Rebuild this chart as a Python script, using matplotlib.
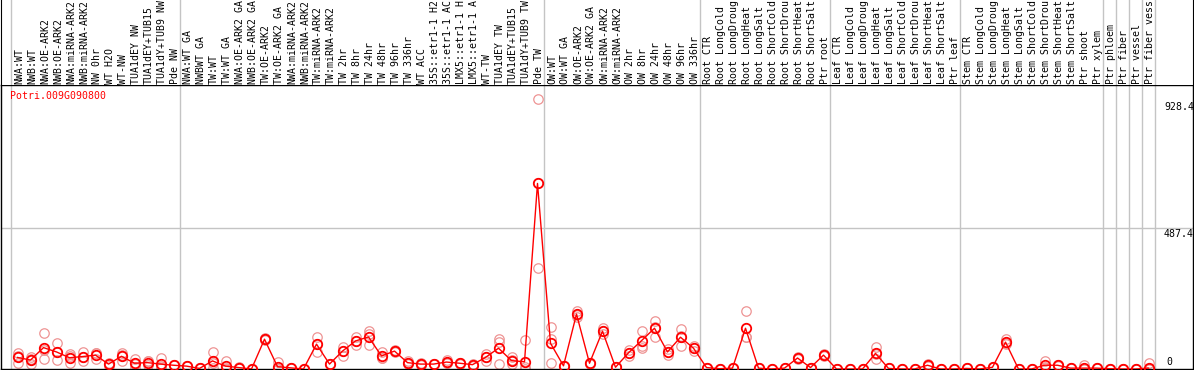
import matplotlib
matplotlib.use('Agg')
import matplotlib.pyplot as plt
import numpy as np

# ---------------- data ----------------
gene_id = "Potri.009G090800"

# labels as they appear (cut to the header height) in the reference
sample_labels = [
    "NWA:WT", "NWB:WT", "NWA:OE-ARK2", "NWB:OE-ARK2", "NWA:miRNA-ARK2", "NWB:miRNA-ARK2",
    "NW 0hr", "WT H2O", "WT-NW", "TUA1dEY NW", "TUA1dEY+TUB15", "TUA1dY+TUB9 NW", "Pde NW",
    "NWA:WT GA", "NWBWT GA", "TW:WT", "TW:WT GA", "NWA:OE-ARK2 GA", "NWB:OE-ARK2 GA",
    "TW:OE-ARK2", "TW:OE-ARK2 GA", "NWA:miRNA-ARK2", "NWB:miRNA-ARK2", "TW:miRNA-ARK2",
    "TW:miRNA-ARK2", "TW 2hr", "TW 8hr", "TW 24hr", "TW 48hr", "TW 96hr", "TW 336hr",
    "WT ACC", "35S::etr1-1 H2", "35S::etr1-1 AC", "LMX5::etr1-1 H", "LMX5::etr1-1 A",
    "WT-TW", "TUA1dEY TW", "TUA1dEY+TUB15", "TUA1dY+TUB9 TW", "Pde TW",
    "OW:WT", "OW:WT GA", "OW:OE-ARK2", "OW:OE-ARK2 GA", "OW:miRNA-ARK2", "OW:miRNA-ARK2",
    "OW 2hr", "OW 8hr", "OW 24hr", "OW 48hr", "OW 96hr", "OW 336hr",
    "Root CTR", "Root LongCold", "Root LongDroug", "Root LongHeat", "Root LongSalt",
    "Root ShortCold", "Root ShortDrou", "Root ShortHeat", "Root ShortSalt", "Ptr root",
    "Leaf CTR", "Leaf LongCold", "Leaf LongDroug", "Leaf LongHeat", "Leaf LongSalt",
    "Leaf ShortCold", "Leaf ShortDrou", "Leaf ShortHeat", "Leaf ShortSalt", "Ptr leaf",
    "Stem CTR", "Stem LongCold", "Stem LongDroug", "Stem LongHeat", "Stem LongSalt",
    "Stem ShortCold", "Stem ShortDrou", "Stem ShortHeat", "Stem ShortSalt", "Ptr shoot",
    "Ptr xylem", "Ptr phloem", "Ptr fiber", "Ptr vessel", "Ptr fiber vess",
]

mean_expr = [
    40, 31, 74, 59, 39, 43, 48, 17, 44, 20, 22, 17, 13,
    10, 2, 28, 10, 5, 0, 103, 8, 4, 0, 86, 17, 62, 97, 111, 45, 62, 22,
    17, 17, 24, 20, 15, 40, 72, 29, 25, 642,
    89, 11, 190, 20, 131, 6, 56, 98, 141, 59, 110, 72,
    5, 1, 3, 141, 3, 0, 3, 38, 5, 48,
    0, 0, 0, 54, 2, 0, 0, 13, 0, 0,
    2, 0, 6, 93, 0, 0, 13, 13, 3, 3,
    3, 1, 0, 0, 3,
]

rep_a = [
    56, 43, 124, 89, 52, 59, 54, 17, 56, 35, 27, 38, 13,
    10, 2, 59, 27, 8, 0, 106, 24, 4, 0, 110, 17, 77, 112, 131, 60, 65, 27,
    20, 17, 30, 22, 19, 51, 103, 40, 100, 935,
    144, 11, 202, 22, 120, 6, 66, 132, 167, 48, 137, 80,
    5, 1, 3, 202, 3, 0, 3, 42, 5, 52,
    0, 0, 0, 77, 2, 0, 0, 17, 0, 0,
    2, 0, 6, 105, 0, 0, 28, 15, 3, 13,
    3, 1, 0, 0, 20,
]

rep_b = [
    20, 17, 66, 59, 20, 27, 34, 12, 29, 6, 13, 3, 13,
    10, 2, 3, 3, 3, 0, 100, 0, 4, 0, 60, 17, 45, 83, 82, 38, 58, 17,
    14, 17, 20, 18, 12, 40, 95, 17, 6, 348,
    20, 11, 181, 18, 131, 6, 45, 80, 110, 59, 80, 72,
    5, 1, 3, 112, 3, 0, 3, 35, 5, 45,
    0, 0, 0, 34, 2, 0, 0, 10, 0, 0,
    2, 0, 6, 85, 0, 0, 6, 11, 3, 0,
    3, 1, 0, 0, 0,
]

rep_c = [
    44, 33, 34, 30, 45, 43, 56, 22, 47, 19, 26, 10, 13,
    10, 2, 22, 0, 4, 0, 103, 0, 4, 0, 88, 17, 64, 96, 120, 37, 63, 22,
    17, 17, 22, 20, 14, 29, 17, 30, 0, 642,
    103, 11, 187, 20, 142, 6, 57, 72, 146, 70, 113, 64,
    5, 1, 3, 109, 3, 0, 3, 37, 5, 47,
    0, 0, 0, 51, 2, 0, 0, 12, 0, 0,
    2, 0, 6, 89, 0, 0, 5, 13, 3, 0,
    3, 1, 0, 0, 0,
]

group_edges = [0, 13, 41, 53, 63, 73, 84, 85, 86, 87, 88]
ytick_values = [928.4, 487.4, 0]
grid_value = 487.4

# ---------------- layout ----------------
W, H = 1194, 370
COL_PX = 13.0          # pixel width of one sample column
X0_PX = 11.0           # pixel of first column edge
Y_PER_PX = 3.46        # data units per pixel
PLOT_TOP_PX = 85
PLOT_BOT_PX = 369

FONT = "DejaVu Sans Mono"
FS = 7.1
RED = "#ff0000"
PINK = "#ee9494"
GRAY = "#c4c4c4"

fig = plt.figure(figsize=(W / 100, H / 100), dpi=100)
fig.patch.set_facecolor("white")

xl = ((1 - X0_PX) / COL_PX, (1193 - X0_PX) / COL_PX)

ax = fig.add_axes([1 / W, (H - PLOT_BOT_PX) / H, 1192 / W, (PLOT_BOT_PX - PLOT_TOP_PX) / H])
top = fig.add_axes([1 / W, (H - PLOT_TOP_PX) / H, 1192 / W, PLOT_TOP_PX / H])

n = len(sample_labels)
x = np.arange(n) + 0.5

# main axes
ax.set_xlim(*xl)
ax.set_ylim(0, (PLOT_BOT_PX - PLOT_TOP_PX) * Y_PER_PX)
ax.set_xticks([])
ax.set_yticks([])
for s in ax.spines.values():
    s.set_color("black")
    s.set_linewidth(1.0)

for e in group_edges:
    ax.axvline(e, color=GRAY, lw=1.0, zorder=1)
ax.axhline(grid_value, color=GRAY, lw=1.0, zorder=1)

for reps in (rep_a, rep_b, rep_c):
    ax.plot(x, reps, linestyle="none", marker="o", markersize=6.8,
            markerfacecolor="none", markeredgecolor=PINK, markeredgewidth=0.9, zorder=2)

ax.plot(x, mean_expr, color=RED, lw=1.0, zorder=3)
ax.plot(x, mean_expr, linestyle="none", marker="o", markersize=6.8,
        markerfacecolor="none", markeredgecolor=RED, markeredgewidth=1.3, zorder=4)

ax.text((10 - X0_PX) / COL_PX, (PLOT_BOT_PX - 96) * Y_PER_PX, gene_id, color=RED,
        fontsize=FS, family=FONT, ha="left", va="center")

for v in ytick_values:
    if v == 0:
        ax.text((1166 - X0_PX) / COL_PX, 7 * Y_PER_PX, "0", fontsize=FS, family=FONT,
                ha="left", va="center")
    else:
        ax.text((1164 - X0_PX) / COL_PX, v - 1 * Y_PER_PX, f"{v:g}", fontsize=FS,
                family=FONT, ha="left", va="top")

# label header
top.set_xlim(*xl)
top.set_ylim(0, PLOT_TOP_PX)
top.set_xticks([])
top.set_yticks([])
top.spines["top"].set_visible(False)
top.spines["bottom"].set_visible(False)
top.spines["left"].set_color("black")
top.spines["right"].set_color("black")
for e in group_edges:
    top.axvline(e, color=GRAY, lw=1.0, zorder=1)
for xi, lab in zip(x, sample_labels):
    top.text(xi + 1.5 / COL_PX, 1.5, lab, rotation=90, fontsize=FS, family=FONT,
             ha="center", va="bottom")

fig.savefig("out.png", dpi=100)
